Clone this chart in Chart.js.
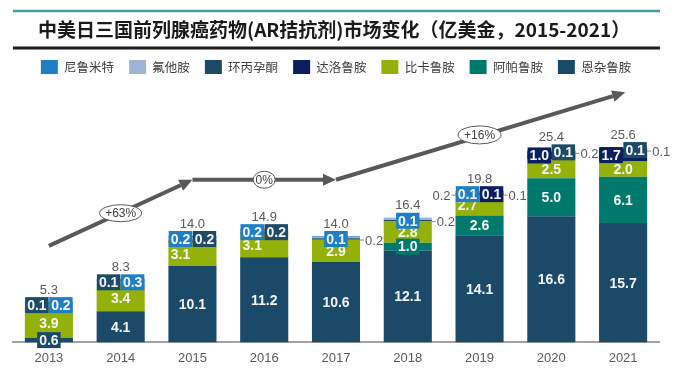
<!DOCTYPE html>
<html>
<head>
<meta charset="utf-8">
<script src="https://cdn.jsdelivr.net/npm/chart.js@4"></script>
<style>
  html, body { margin: 0; padding: 0; background: #fff; }
  #wrap { width: 674px; height: 374px; position: relative; }
</style>
</head>
<body>
<div id="wrap"><canvas id="marketChart"></canvas></div>
<script>
/* data (亿美金) */
const years = ["2013", "2014", "2015", "2016", "2017", "2018", "2019", "2020", "2021"];
const enzalutamide = [0.6, 4.1, 10.1, 11.2, 10.6, 12.1, 14.1, 16.6, 15.7];   // 恩杂鲁胺
const apalutamide  = [0, 0, 0, 0, 0, 1.0, 2.6, 5.0, 6.1];                      // 阿帕鲁胺
const bicalutamide = [3.9, 3.4, 3.1, 3.1, 2.9, 2.8, 2.7, 2.5, 2.0];            // 比卡鲁胺
const darolutamide = [0, 0, 0, 0, 0, 0, 0.1, 1.0, 1.7];                        // 达洛鲁胺
const cyproterone  = [0.1, 0.1, 0.2, 0.2, 0.2, 0.2, 0.2, 0.1, 0.1];            // 环丙孕酮
const flutamide    = [0.5, 0.4, 0.4, 0.2, 0.2, 0.2, 0.1, 0.2, 0.1];            // 氟他胺
const nilutamide   = [0.2, 0.3, 0.2, 0.2, 0.1, 0.1, 0.1, 0, 0];                // 尼鲁米特
const totals = [5.3, 8.3, 14.0, 14.9, 14.0, 16.4, 19.8, 25.4, 25.6];
const growthLabels = ["+63%", "0%", "+16%"];

const TITLE = "中美日三国前列腺癌药物(AR拮抗剂)市场变化（亿美金，2015-2021）";
const NUM_FONT = "'Liberation Sans', Arial, sans-serif";
const CJK_FONT = "'Noto Sans CJK SC', 'Noto Sans', sans-serif";
const GREY_TEXT = "#5a5a5a";

// how each value label is placed: in = white text on the bar, box = coloured tag,
// out = grey text beside the bar with a short leader
const labelPlan = {
  "恩杂鲁胺": ["box", "in", "in", "in", "in", "in", "in", "in", "in"],
  "阿帕鲁胺": ["", "", "", "", "", "box", "in", "in", "in"],
  "比卡鲁胺": ["in", "in", "inL", "inL", "in", "in", "inL", "in", "in"],
  "达洛鲁胺": ["", "", "", "", "", "", "boxR", "boxL", "boxL"],
  "环丙孕酮": ["boxL", "boxL", "boxR", "boxR", "", "", "outL", "boxR", "boxR"],
  "氟他胺":   ["", "", "", "", "outR", "outR", "outR", "outR", "outR"],
  "尼鲁米特": ["boxR", "boxR", "boxL", "boxL", "box", "box", "boxL", "", ""]
};

const headerPlugin = {
  id: "header",
  beforeDraw(chart) {
    const ctx = chart.ctx;
    ctx.save();
    ctx.strokeStyle = "#3d9ea6";
    ctx.lineWidth = 2.5;
    ctx.beginPath(); ctx.moveTo(13, 11); ctx.lineTo(660, 11); ctx.stroke();
    ctx.strokeStyle = "#1e1e1e";
    ctx.lineWidth = 3;
    ctx.beginPath(); ctx.moveTo(13, 48); ctx.lineTo(660, 48); ctx.stroke();
    ctx.fillStyle = "#1a1a1a";
    ctx.font = "bold 19px " + CJK_FONT;
    ctx.textAlign = "left";
    ctx.textBaseline = "middle";
    ctx.fillText(TITLE, 38, 30);
    ctx.restore();
  }
};

function arrow(ctx, x1, y1, x2, y2) {
  const a = Math.atan2(y2 - y1, x2 - x1);
  const len = 13, half = 6;
  const bx = x2 - len * Math.cos(a), by = y2 - len * Math.sin(a);
  ctx.beginPath(); ctx.moveTo(x1, y1); ctx.lineTo(bx, by); ctx.stroke();
  ctx.beginPath();
  ctx.moveTo(x2, y2);
  ctx.lineTo(bx + half * Math.sin(a), by - half * Math.cos(a));
  ctx.lineTo(bx - half * Math.sin(a), by + half * Math.cos(a));
  ctx.closePath(); ctx.fill();
}

const trendPlugin = {
  id: "trend",
  afterDatasetsDraw(chart) {
    const ctx = chart.ctx, xs = chart.scales.x, ys = chart.scales.y;
    const P = (i, v) => [xs.getPixelForValue(i), ys.getPixelForValue(v)];
    const legs = [[P(0, 12.7), P(2, 21.4)], [P(2, 21.4), P(4, 21.4)], [P(4, 21.4), P(8.03, 32.9)]];
    const tags = [[P(1, 17.0), 21, 8.5], [P(3, 21.4), 11, 8.5], [P(6, 27.3), 21.5, 9]];
    ctx.save();
    ctx.strokeStyle = "#595959";
    ctx.fillStyle = "#595959";
    ctx.lineWidth = 4;
    legs.forEach(l => arrow(ctx, l[0][0], l[0][1], l[1][0], l[1][1]));
    tags.forEach((t, k) => {
      ctx.beginPath();
      ctx.ellipse(t[0][0], t[0][1], t[1], t[2], 0, 0, Math.PI * 2);
      ctx.fillStyle = "#fff"; ctx.fill();
      ctx.lineWidth = 1; ctx.strokeStyle = "#595959"; ctx.stroke();
      ctx.fillStyle = "#404040";
      ctx.font = "12px " + NUM_FONT;
      ctx.textAlign = "center"; ctx.textBaseline = "middle";
      ctx.fillText(growthLabels[k], t[0][0], t[0][1] + 0.5);
    });
    ctx.restore();
  }
};

const valueLabelPlugin = {
  id: "valueLabels",
  afterDatasetsDraw(chart) {
    const ctx = chart.ctx;
    const sets = chart.data.datasets;
    const topMeta = chart.getDatasetMeta(sets.length - 1);
    ctx.save();
    ctx.textBaseline = "middle";
    sets.forEach((ds, di) => {
      const meta = chart.getDatasetMeta(di);
      meta.data.forEach((bar, i) => {
        const mode = labelPlan[ds.label][i];
        if (!mode) return;
        const v = ds.data[i];
        const txt = v.toFixed(1);
        const stackTop = topMeta.data[i].y;
        const mid = (bar.y + bar.base) / 2;
        const half = bar.width / 2;
        if (mode === "in" || mode === "inL") {
          ctx.font = "bold 14px " + NUM_FONT;
          ctx.fillStyle = "#f4f4f4";
          ctx.textAlign = "center";
          ctx.fillText(txt, bar.x + (mode === "inL" ? -12 : 0), mid + 1);
        } else if (mode.startsWith("box")) {
          ctx.font = "bold 14px " + NUM_FONT;
          const w = ctx.measureText(txt).width + 4, h = 16;
          const cx = bar.x + (mode === "boxL" ? -12 : mode === "boxR" ? 12 : 0);
          const cy = v < 0.5 ? stackTop + 3 : mid;
          ctx.fillStyle = ds.backgroundColor;
          ctx.fillRect(cx - w / 2, cy - h / 2, w, h);
          ctx.fillStyle = "#f4f4f4";
          ctx.textAlign = "center";
          ctx.fillText(txt, cx, cy + 1);
        } else {
          const cy = stackTop + 4;
          ctx.strokeStyle = "#8c8c8c";
          ctx.lineWidth = 1;
          ctx.font = "13px " + NUM_FONT;
          ctx.fillStyle = GREY_TEXT;
          ctx.beginPath();
          if (mode === "outR") {
            const ex = bar.x + half;
            ctx.moveTo(ex, cy); ctx.lineTo(ex + 4, cy); ctx.stroke();
            ctx.textAlign = "left";
            ctx.fillText(txt, ex + 5, cy + 1);
          } else {
            const ex = bar.x - half;
            ctx.moveTo(ex, cy); ctx.lineTo(ex - 4, cy); ctx.stroke();
            ctx.textAlign = "right";
            ctx.fillText(txt, ex - 5, cy + 1);
          }
        }
      });
    });
    // totals above each bar
    ctx.font = "13px " + NUM_FONT;
    ctx.fillStyle = GREY_TEXT;
    ctx.textAlign = "center";
    topMeta.data.forEach((bar, i) => {
      ctx.fillText(totals[i].toFixed(1), bar.x, bar.y - 12);
    });
    ctx.restore();
  }
};

const ctx = document.getElementById("marketChart").getContext("2d");
const chart = new Chart(ctx, {
  type: "bar",
  data: {
    labels: years,
    datasets: [
      { label: "恩杂鲁胺", data: enzalutamide, backgroundColor: "#1b4a68" },
      { label: "阿帕鲁胺", data: apalutamide, backgroundColor: "#00796d" },
      { label: "比卡鲁胺", data: bicalutamide, backgroundColor: "#94b10a" },
      { label: "达洛鲁胺", data: darolutamide, backgroundColor: "#0b1f5e" },
      { label: "环丙孕酮", data: cyproterone, backgroundColor: "#1c4a67" },
      { label: "氟他胺", data: flutamide, backgroundColor: "#9fb4d5" },
      { label: "尼鲁米特", data: nilutamide, backgroundColor: "#1f7fc6" }
    ]
  },
  options: {
    responsive: true,
    maintainAspectRatio: false,
    devicePixelRatio: 1,
    animation: false,
    layout: { padding: { top: 45, left: 13, right: 15, bottom: 0 } },
    datasets: { bar: { categoryPercentage: 1, barPercentage: 0.67, borderWidth: 0 } },
    scales: {
      x: {
        stacked: true,
        grid: { display: false, drawTicks: false },
        border: { display: true, color: "#a3a3a3", width: 2 },
        ticks: { color: GREY_TEXT, padding: 8, font: { family: NUM_FONT, size: 13 } }
      },
      y: {
        stacked: true,
        display: false,
        min: 0,
        max: 34.0
      }
    },
    plugins: {
      legend: {
        position: "top",
        reverse: true,
        labels: {
          boxWidth: 17,
          boxHeight: 14,
          padding: 15,
          color: "#404040",
          font: { family: CJK_FONT, size: 12.5 }
        }
      },
      tooltip: { enabled: false }
    }
  },
  plugins: [headerPlugin, trendPlugin, valueLabelPlugin]
});
</script>
</body>
</html>
